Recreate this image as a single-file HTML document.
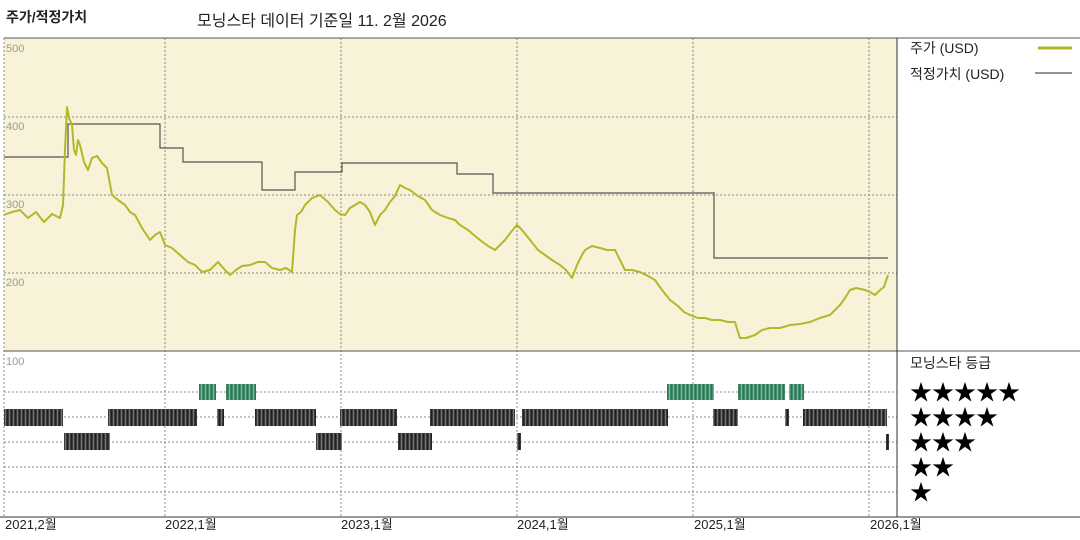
<!DOCTYPE html>
<html><head><meta charset="utf-8"><style>
body{margin:0;width:1080px;height:540px;background:#fff;overflow:hidden;font-family:"Liberation Sans","Noto Sans CJK KR",sans-serif}
</style></head><body>
<svg width="1080" height="540" xmlns="http://www.w3.org/2000/svg" style="position:absolute;left:0;top:0">
<defs>
<pattern id="dk" width="4" height="20" patternUnits="userSpaceOnUse"><rect width="4" height="20" fill="#3a3a3a"/><rect x="1" width="1" height="20" fill="#777"/><rect x="3" width="0.6" height="20" fill="#111"/></pattern>
<pattern id="gr" width="4" height="20" patternUnits="userSpaceOnUse"><rect width="4" height="20" fill="#3f8a68"/><rect x="1" width="1" height="20" fill="#7fb59c"/><rect x="3" width="0.6" height="20" fill="#1f6a48"/></pattern>
</defs>
<text x="6" y="22" font-size="14" font-weight="bold" fill="#222" font-family="Liberation Sans,Noto Sans CJK KR,sans-serif">주가/적정가치</text>
<text x="197" y="26" font-size="16" fill="#222" font-family="Liberation Sans,Noto Sans CJK KR,sans-serif">모닝스타 데이터 기준일 11. 2월 2026</text>
<rect x="4" y="38" width="893" height="313" fill="#f8f3d8"/>
<g stroke="#888" stroke-dasharray="2,2" stroke-width="1">
<line x1="4" y1="117" x2="897" y2="117"/><line x1="4" y1="195" x2="897" y2="195"/><line x1="4" y1="273" x2="897" y2="273"/>
<line x1="4" y1="392" x2="897" y2="392"/><line x1="4" y1="417" x2="897" y2="417"/><line x1="4" y1="442" x2="897" y2="442"/><line x1="4" y1="467" x2="897" y2="467"/><line x1="4" y1="492" x2="897" y2="492"/>
<line x1="4" y1="38" x2="4" y2="517"/><line x1="165" y1="38" x2="165" y2="517"/><line x1="341" y1="38" x2="341" y2="517"/><line x1="517" y1="38" x2="517" y2="517"/><line x1="693" y1="38" x2="693" y2="517"/><line x1="869" y1="38" x2="869" y2="517"/>
</g>
<line x1="4" y1="38" x2="1080" y2="38" stroke="#555"/>
<line x1="4" y1="351" x2="1080" y2="351" stroke="#555"/>
<line x1="897" y1="38" x2="897" y2="517" stroke="#333"/>
<line x1="0" y1="517" x2="1080" y2="517" stroke="#333"/>
<g font-size="11" fill="#999"><text x="6" y="52">500</text><text x="6" y="130">400</text><text x="6" y="208">300</text><text x="6" y="286">200</text><text x="6" y="365">100</text></g>
<polyline fill="none" stroke="#555" stroke-width="1.2" points="4,157 68,157 68,124 160,124 160,148 183,148 183,162 262,162 262,190 295,190 295,172 342,172 342,163 457,163 457,174 493,174 493,193 714,193 714,258 888,258"/>
<polyline fill="none" stroke="#b2b82a" stroke-width="2" stroke-linejoin="round" points="4,215 12,212 20,210 28,218 36,212 44,222 52,214 60,218 63,205 65,150 67,107 69,118 72,125 74,150 76,155 78,140 80,145 84,162 88,170 92,158 97,156 102,163 107,168 112,195 118,200 125,205 130,212 135,215 142,228 150,240 155,235 160,232 165,245 172,248 180,255 188,262 195,265 202,272 210,270 218,262 225,270 230,275 236,270 242,266 250,265 258,262 265,262 272,268 280,270 286,268 292,272 295,230 297,215 301,212 305,205 312,198 320,195 328,202 335,210 340,214 345,215 350,208 355,205 360,202 365,205 370,212 375,225 380,215 385,210 390,202 395,196 400,185 405,188 410,190 418,196 425,200 432,210 440,215 448,218 455,220 460,225 468,230 475,236 480,240 488,246 495,250 500,245 505,240 511,232 517,225 522,230 530,240 538,250 545,255 552,260 560,265 566,270 572,278 577,265 582,255 585,250 592,246 600,248 607,250 615,250 620,260 625,270 632,270 640,272 648,276 655,280 662,290 670,300 678,306 684,312 690,315 698,318 705,318 712,320 720,320 728,322 735,322 738,332 740,338 746,338 755,335 762,330 770,328 780,328 790,325 800,324 810,322 820,318 830,315 840,305 845,298 850,290 856,288 865,290 870,292 875,295 880,290 884,287 887,278 888,275"/>
<g fill="url(#gr)"><rect x="199" y="384" width="17" height="16"/><rect x="226" y="384" width="30" height="16"/><rect x="667" y="384" width="47" height="16"/><rect x="738" y="384" width="47" height="16"/><rect x="789" y="384" width="15" height="16"/></g>
<g fill="url(#dk)"><rect x="4" y="409" width="59" height="17"/><rect x="108" y="409" width="89" height="17"/><rect x="217" y="409" width="7" height="17"/><rect x="255" y="409" width="61" height="17"/><rect x="340" y="409" width="57" height="17"/><rect x="430" y="409" width="85" height="17"/><rect x="522" y="409" width="146" height="17"/><rect x="713" y="409" width="25" height="17"/><rect x="785" y="409" width="4" height="17"/><rect x="803" y="409" width="84" height="17"/>
<rect x="64" y="433" width="46" height="17"/><rect x="316" y="433" width="26" height="17"/><rect x="398" y="433" width="34" height="17"/><rect x="517" y="433" width="4" height="17"/><rect x="886" y="434" width="3" height="16"/></g>
<g font-size="13" fill="#222"><text x="5" y="529">2021,2월</text><text x="165" y="529">2022,1월</text><text x="341" y="529">2023,1월</text><text x="517" y="529">2024,1월</text><text x="694" y="529">2025,1월</text><text x="870" y="529">2026,1월</text></g>
<g font-size="14" fill="#222"><text x="910" y="53">주가 (USD)</text><text x="910" y="79">적정가치 (USD)</text><text x="910" y="368">모닝스타 등급</text></g>
<line x1="1038" y1="48" x2="1072" y2="48" stroke="#b2b82a" stroke-width="3"/>
<line x1="1035" y1="73" x2="1072" y2="73" stroke="#555" stroke-width="1.2"/>
<g font-size="22" fill="#000"><text x="910" y="400">★★★★★</text><text x="910" y="425">★★★★</text><text x="910" y="450">★★★</text><text x="910" y="475">★★</text><text x="910" y="500">★</text></g>
</svg>
</body></html>
